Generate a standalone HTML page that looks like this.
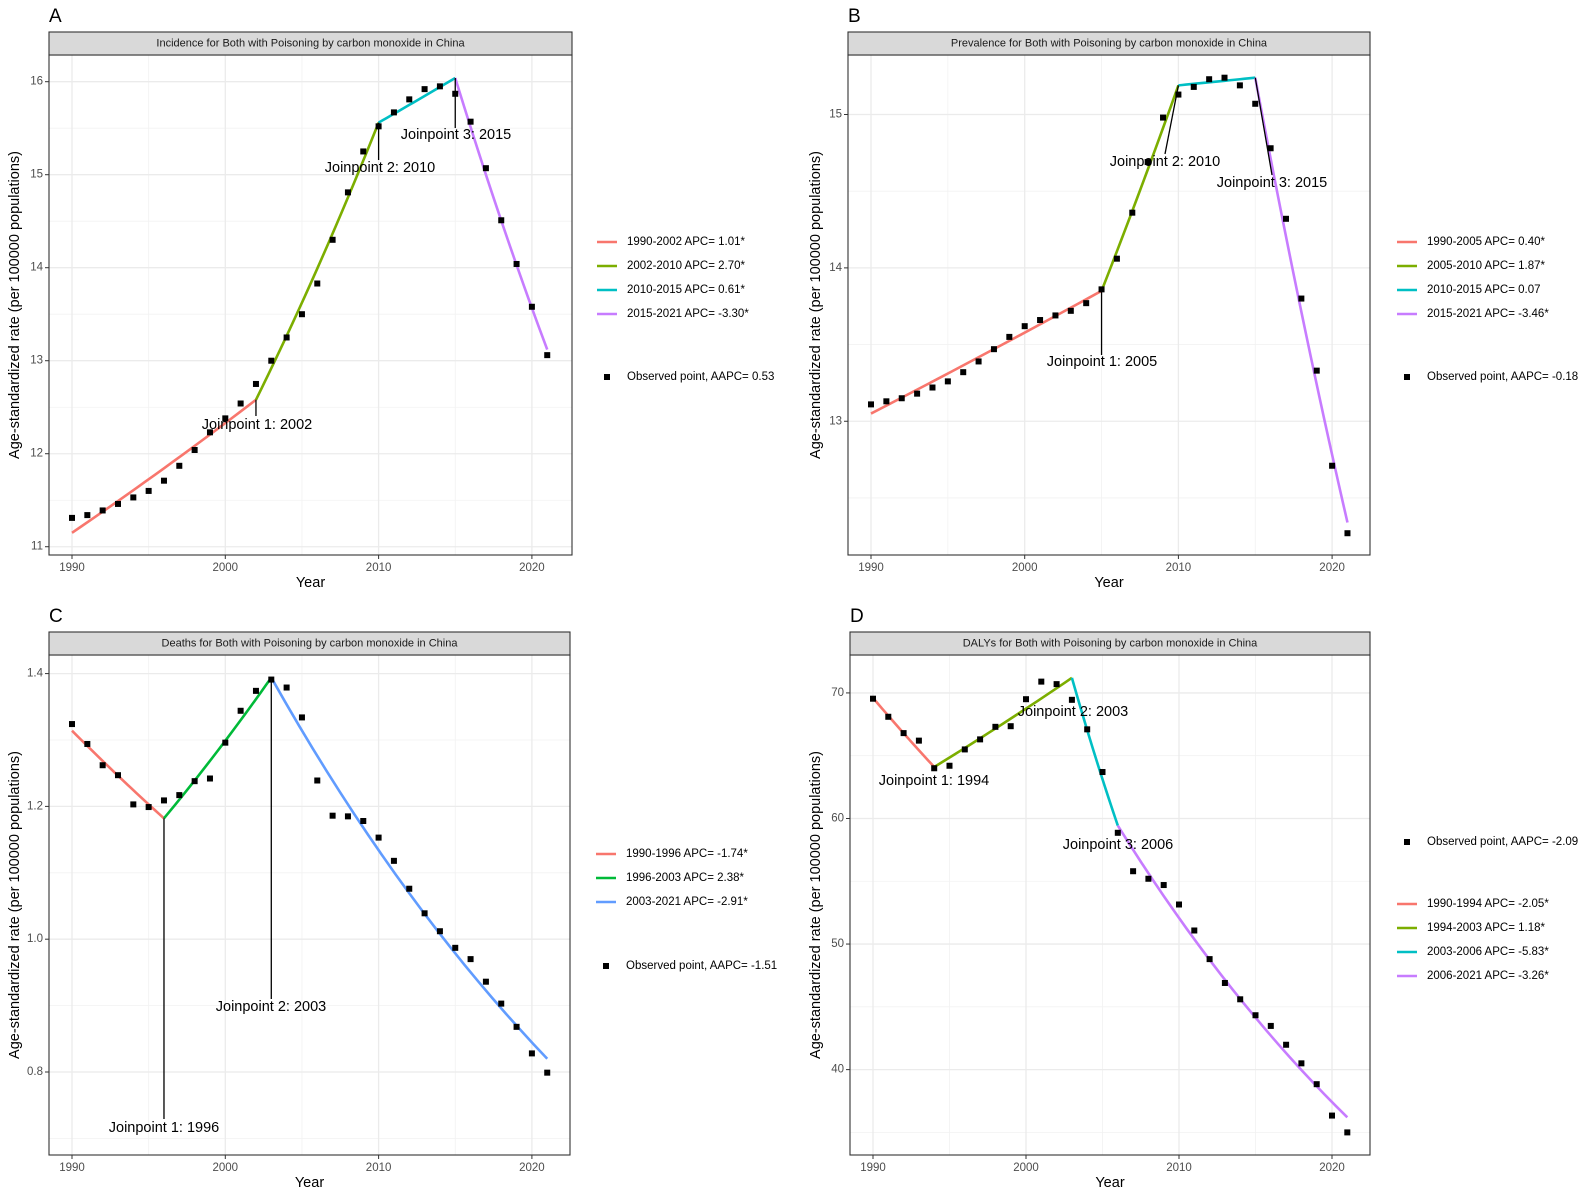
<!DOCTYPE html>
<html><head><meta charset="utf-8">
<style>
html,body{margin:0;padding:0;background:#fff;}
svg{display:block;font-family:"Liberation Sans",Arial,sans-serif;}
</style></head>
<body>
<svg id="fig" width="1595" height="1196" viewBox="0 0 1595 1196" xmlns="http://www.w3.org/2000/svg"></svg>
<script>
// ---------- data ----------
const years = [1990,1991,1992,1993,1994,1995,1996,1997,1998,1999,2000,2001,2002,2003,2004,2005,2006,2007,2008,2009,2010,2011,2012,2013,2014,2015,2016,2017,2018,2019,2020,2021];
const incidenceObs = [11.31,11.34,11.39,11.46,11.53,11.60,11.71,11.87,12.04,12.23,12.38,12.54,12.75,13.00,13.25,13.50,13.83,14.30,14.81,15.25,15.52,15.67,15.81,15.92,15.95,15.87,15.57,15.07,14.51,14.04,13.58,13.06];
const incidenceJoinYears = [1990,2002,2010,2015,2021];
const incidenceJoinVals = [11.15,12.58,15.56,16.04,13.12];
const incidenceLegend = ["1990-2002 APC= 1.01*","2002-2010 APC= 2.70*","2010-2015 APC= 0.61*","2015-2021 APC= -3.30*"];
const prevalenceObs = [13.11,13.13,13.15,13.18,13.22,13.26,13.32,13.39,13.47,13.55,13.62,13.66,13.69,13.72,13.77,13.86,14.06,14.36,14.69,14.98,15.13,15.18,15.23,15.24,15.19,15.07,14.78,14.32,13.80,13.33,12.71,12.27];
const prevalenceJoinYears = [1990,2005,2010,2015,2021];
const prevalenceJoinVals = [13.05,13.85,15.19,15.24,12.34];
const prevalenceLegend = ["1990-2005 APC= 0.40*","2005-2010 APC= 1.87*","2010-2015 APC= 0.07","2015-2021 APC= -3.46*"];
const deathsObs = [1.324,1.294,1.262,1.247,1.203,1.199,1.209,1.217,1.238,1.242,1.296,1.344,1.374,1.391,1.379,1.334,1.239,1.186,1.185,1.178,1.153,1.118,1.076,1.039,1.012,0.987,0.970,0.936,0.903,0.868,0.828,0.799];
const deathsJoinYears = [1990,1996,2003,2021];
const deathsJoinVals = [1.314,1.182,1.394,0.820];
const deathsLegend = ["1990-1996 APC= -1.74*","1996-2003 APC= 2.38*","2003-2021 APC= -2.91*"];
const dalysObs = [69.54,68.1,66.8,66.2,64.0,64.2,65.5,66.3,67.3,67.35,69.5,70.9,70.7,69.45,67.1,63.7,58.86,55.8,55.2,54.7,53.15,51.08,48.8,46.9,45.6,44.33,43.48,41.98,40.5,38.84,36.34,35.0];
const dalysJoinYears = [1990,1994,2003,2006,2021];
const dalysJoinVals = [69.6,64.1,71.2,59.44,36.2];
const dalysLegend = ["1990-1994 APC= -2.05*","1994-2003 APC= 1.18*","2003-2006 APC= -5.83*","2006-2021 APC= -3.26*"];
const xTicks = [1990,2000,2010,2020];
const incidenceTicks = [11,12,13,14,15,16];
const prevalenceTicks = [13,14,15];
const deathsTicks = [0.8,1.0,1.2,1.4];
const deathsTickLabels = ["0.8","1.0","1.2","1.4"];
const dalysTicks = [40,50,60,70];

// ---------- rendering ----------
const NS = "http://www.w3.org/2000/svg";
const svg = document.getElementById('fig');
function mk(tag, attrs, parent, text){
  const e = document.createElementNS(NS, tag);
  for (const k in attrs) e.setAttribute(k, attrs[k]);
  if (text !== undefined) e.textContent = text;
  (parent||svg).appendChild(e);
  return e;
}
const PAL4 = ["#F8766D","#7CAE00","#00BFC4","#C77CFF"];
const PAL3 = ["#F8766D","#00BA38","#619CFF"];

function panel(cfg){
  const g = mk('g', {});
  
  
  const L=cfg.left, R=cfg.right, T=cfg.stripBottom, B=cfg.bottom;
  const xs = y => cfg.x1990 + (y-1990)*cfg.pxYear;
  const ys = v => B - (v-cfg.ymin)/(cfg.ymax-cfg.ymin)*(B-T);
  const letter = mk('text', {x:L, y:cfg.stripTop-10, 'font-size':19, fill:'#000'}, g, cfg.letter);
  
  
  // background
  mk('rect', {x:L, y:T, width:R-L, height:B-T, fill:'#fff'}, g);
  // minor grid
  const minorY = [];
  for (let i=0;i<cfg.yTicks.length+1;i++){
    const step = cfg.yTicks[1]-cfg.yTicks[0];
    minorY.push(cfg.yTicks[0] - step/2 + i*step);
  }
  minorY.forEach(v=>{ const p=ys(v); if(p>T&&p<B) mk('line',{x1:L,x2:R,y1:p,y2:p,stroke:'#f2f2f2','stroke-width':0.8},g); });
  [1995,2005,2015].forEach(v=>{ const p=xs(v); mk('line',{x1:p,x2:p,y1:T,y2:B,stroke:'#f2f2f2','stroke-width':0.8},g); });
  // major grid
  cfg.yTicks.forEach(v=>{ const p=ys(v); mk('line',{x1:L,x2:R,y1:p,y2:p,stroke:'#ebebeb','stroke-width':1.3},g); });
  xTicks.forEach(v=>{ const p=xs(v); mk('line',{x1:p,x2:p,y1:T,y2:B,stroke:'#ebebeb','stroke-width':1.3},g); });
  // fitted segments
  for (let i=0;i<cfg.jy.length-1;i++){
    const a=cfg.jv[i], b=cfg.jv[i+1], y0=cfg.jy[i], y1=cfg.jy[i+1];
    let d='';
    for (let k=0;k<=20;k++){
      const t=k/20, yr=y0+(y1-y0)*t, v=a*Math.pow(b/a,t);
      d += (k?'L':'M')+xs(yr).toFixed(2)+','+ys(v).toFixed(2);
    }
    const seg = mk('path',{d:d,fill:'none',stroke:cfg.pal[i],'stroke-width':2.6},g);
    
    
  }
  // points
  cfg.obs.forEach((v,i)=>{
    const r = mk('rect',{x:xs(years[i])-3,y:ys(v)-3,width:6,height:6,fill:'#000'},g);
    
    
  });
  // annotations
  cfg.ann.forEach((a,i)=>{
    if (a.line){
      const x0 = xs(a.year), y0 = ys(cfg.jv[cfg.jy.indexOf(a.year)]);
      mk('line',{x1:x0,y1:y0,x2:a.lx!==undefined?a.lx:x0,y2:a.ly,stroke:'#000','stroke-width':1.3},g);
    }
    const t = mk('text',{x:a.tx,y:a.ty,'font-size':14.5,'text-anchor':'middle','dominant-baseline':'central',fill:'#000'},g,a.text);
    
    
  });
  // border
  mk('rect',{x:L,y:T,width:R-L,height:B-T,fill:'none',stroke:'#333','stroke-width':1.1},g);
  // strip
  const st = mk('rect',{x:L,y:cfg.stripTop,width:R-L,height:T-cfg.stripTop,fill:'#d9d9d9',stroke:'#333','stroke-width':1.1},g);
  
  
  const stt = mk('text',{x:(L+R)/2,y:(cfg.stripTop+T)/2,'font-size':11,'text-anchor':'middle','dominant-baseline':'central',fill:'#1a1a1a'},g,cfg.title);
  
  
  // axes ticks
  cfg.yTicks.forEach((v,i)=>{
    const p=ys(v);
    mk('line',{x1:L-4,x2:L,y1:p,y2:p,stroke:'#333','stroke-width':1},g);
    const tl = mk('text',{x:L-6,y:p,'font-size':11.5,'text-anchor':'end','dominant-baseline':'central',fill:'#4d4d4d'},g,cfg.yLabels?cfg.yLabels[i]:String(v));
    
    
  });
  xTicks.forEach(v=>{
    const p=xs(v);
    mk('line',{x1:p,x2:p,y1:B,y2:B+4,stroke:'#333','stroke-width':1},g);
    const tl = mk('text',{x:p,y:B+13,'font-size':11.5,'text-anchor':'middle','dominant-baseline':'central',fill:'#4d4d4d'},g,String(v));
    
    
  });
  const xt = mk('text',{x:(L+R)/2,y:B+28,'font-size':14.5,'text-anchor':'middle','dominant-baseline':'central',fill:'#000'},g,'Year');
  
  
  const yc=(T+B)/2;
  const yt = mk('text',{x:cfg.ytitleX,y:yc,'font-size':14.5,'text-anchor':'middle','dominant-baseline':'central',fill:'#000',transform:'rotate(-90 '+cfg.ytitleX+' '+yc+')'},g,'Age-standardized rate (per 100000 populations)');
  
  
  // legend
  const lg = mk('g',{},g);
  
  
  cfg.legend.forEach((txt,i)=>{
    const y = cfg.legY[i];
    mk('line',{x1:cfg.legX,x2:cfg.legX+20,y1:y,y2:y,stroke:cfg.pal[i],'stroke-width':2.6},lg);
    const t = mk('text',{x:cfg.legX+30,y:y,'font-size':11.5,'dominant-baseline':'central',fill:'#000'},lg,txt);
    
    
  });
  mk('rect',{x:cfg.legX+7,y:cfg.obsY-3,width:6,height:6,fill:'#000'},lg);
  const ot = mk('text',{x:cfg.legX+30,y:cfg.obsY,'font-size':11.5,'dominant-baseline':'central',fill:'#000'},lg,cfg.obsText);
  
  
}

panel({name:'incidence',letter:'A',left:49,right:572,stripTop:32,stripBottom:55,bottom:555,
  x1990:72,pxYear:15.33,ymin:10.911,ymax:16.287,yTicks:incidenceTicks,
  obs:incidenceObs,jy:incidenceJoinYears,jv:incidenceJoinVals,pal:PAL4,
  title:'Incidence for Both with Poisoning by carbon monoxide in China',ytitleX:15,
  ann:[{year:2002,line:true,ly:416,tx:257,ty:425,text:'Joinpoint 1: 2002'},
       {year:2010,line:true,ly:160,tx:380,ty:168,text:'Joinpoint 2: 2010'},
       {year:2015,line:true,ly:128,tx:456,ty:135,text:'Joinpoint 3: 2015'}],
  legend:incidenceLegend,legX:597,legY:[242,266,290,314],obsY:377,obsText:'Observed point, AAPC= 0.53'});

panel({name:'prevalence',letter:'B',left:848,right:1370,stripTop:32,stripBottom:55,bottom:555,
  x1990:871,pxYear:15.37,ymin:12.128,ymax:15.388,yTicks:prevalenceTicks,
  obs:prevalenceObs,jy:prevalenceJoinYears,jv:prevalenceJoinVals,pal:PAL4,
  title:'Prevalence for Both with Poisoning by carbon monoxide in China',ytitleX:816,
  ann:[{year:2005,line:true,ly:355,tx:1102,ty:362,text:'Joinpoint 1: 2005'},
       {year:2010,line:true,lx:1165,ly:154,tx:1165,ty:162,text:'Joinpoint 2: 2010'},
       {year:2015,line:true,lx:1272,ly:175,tx:1272,ty:183,text:'Joinpoint 3: 2015'}],
  legend:prevalenceLegend,legX:1397,legY:[242,266,290,314],obsY:377,obsText:'Observed point, AAPC= -0.18'});

panel({name:'deaths',letter:'C',left:49,right:570,stripTop:632,stripBottom:655,bottom:1155,
  x1990:72,pxYear:15.33,ymin:0.675,ymax:1.428,yTicks:deathsTicks,yLabels:deathsTickLabels,
  obs:deathsObs,jy:deathsJoinYears,jv:deathsJoinVals,pal:PAL3,
  title:'Deaths for Both with Poisoning by carbon monoxide in China',ytitleX:15,
  ann:[{year:1996,line:true,ly:1119,tx:164,ty:1128,text:'Joinpoint 1: 1996'},
       {year:2003,line:true,ly:999,tx:271,ty:1007,text:'Joinpoint 2: 2003'}],
  legend:deathsLegend,legX:596,legY:[854,878,902],obsY:966,obsText:'Observed point, AAPC= -1.51'});

panel({name:'dalys',letter:'D',left:850,right:1370,stripTop:632,stripBottom:655,bottom:1155,
  x1990:873,pxYear:15.3,ymin:33.2,ymax:73.02,yTicks:dalysTicks,
  obs:dalysObs,jy:dalysJoinYears,jv:dalysJoinVals,pal:PAL4,
  title:'DALYs for Both with Poisoning by carbon monoxide in China',ytitleX:816,
  ann:[{year:1994,line:false,tx:934,ty:781,text:'Joinpoint 1: 1994'},
       {year:2003,line:false,tx:1073,ty:712,text:'Joinpoint 2: 2003'},
       {year:2006,line:false,tx:1118,ty:845,text:'Joinpoint 3: 2006'}],
  legend:dalysLegend,legX:1397,legY:[904,928,952,976],obsY:842,obsText:'Observed point, AAPC= -2.09'});
</script>
</body></html>
